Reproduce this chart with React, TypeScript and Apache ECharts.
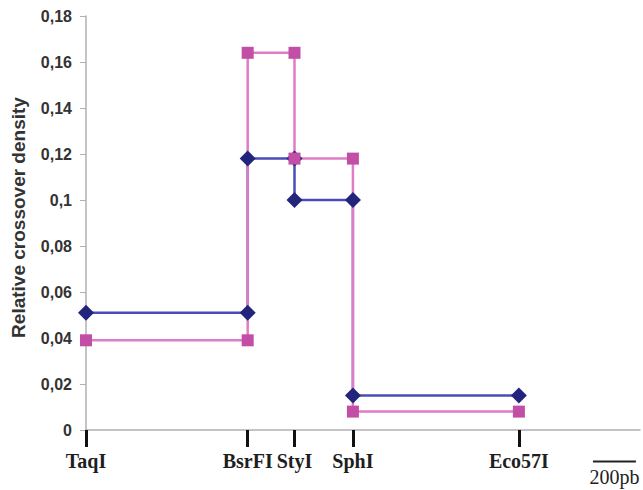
import React, { useEffect, useRef } from "react";
import * as echarts from "echarts";

// Restriction sites (position along the region, in bp)
const siteNames = ["TaqI", "BsrFI", "StyI", "SphI", "Eco57I"];
const sitePositions = [0, 753, 971, 1243, 2016];
// Relative crossover density for each interval between consecutive sites
const blueDensity = [0.051, 0.118, 0.1, 0.015];
const pinkDensity = [0.039, 0.164, 0.118, 0.008];
const yTicks = [0, 0.02, 0.04, 0.06, 0.08, 0.1, 0.12, 0.14, 0.16, 0.18];
const scaleBarStart = 2361;
const scaleBarLength = 200; // bp
const scaleBarLabel = "200pb";

function stepData(values: number[]) {
  const out: [number, number][] = [];
  values.forEach((v, i) => {
    out.push([sitePositions[i], v]);
    out.push([sitePositions[i + 1], v]);
  });
  return out;
}

const BLUE_LINE = "#4c4cb8";
const BLUE_MARK = "#23247c";
const PINK_LINE = "#e07cc6";
const PINK_MARK = "#c24fa5";

export default function App() {
  const ref = useRef<HTMLDivElement>(null);
  useEffect(() => {
    if (!ref.current) return;
    const chart = echarts.init(ref.current, null, { renderer: "svg" });
    const fmt = (v: number) => String(Number(v.toFixed(2))).replace(".", ",");
    const blue = stepData(blueDensity);
    const pink = stepData(pinkDensity);
    chart.setOption({
      animation: false,
      backgroundColor: "#ffffff",
      grid: { left: 86, right: 3, top: 16, bottom: 60, containLabel: false },
      xAxis: {
        type: "value",
        min: 0,
        max: 2580,
        splitLine: { show: false },
        axisLine: { show: true, lineStyle: { color: "#b0b0b0", width: 1.5 } },
        axisTick: {
          show: true,
          customValues: sitePositions,
          length: 17,
          lineStyle: { color: "#111111", width: 3 },
        },
        axisLabel: {
          show: true,
          customValues: sitePositions,
          margin: 21,
          formatter: (v: number) => {
            const i = sitePositions.indexOf(v);
            return i >= 0 ? siteNames[i] : "";
          },
          fontFamily: "Liberation Serif",
          fontWeight: "bold",
          fontSize: 20,
          color: "#1e1e1e",
        },
      },
      yAxis: {
        type: "value",
        min: 0,
        max: 0.18,
        interval: 0.02,
        name: "Relative crossover density",
        nameLocation: "middle",
        nameGap: 58,
        nameRotate: 90,
        nameTextStyle: {
          fontFamily: "Liberation Sans",
          fontWeight: "bold",
          fontSize: 19,
          color: "#333333",
          padding: [0, 0, 0, 11],
        },
        splitLine: { show: false },
        axisLine: { show: true, lineStyle: { color: "#b0b0b0", width: 1.5 } },
        axisTick: { show: true, length: 6, lineStyle: { color: "#b0b0b0" } },
        axisLabel: {
          margin: 14,
          formatter: (v: number) => (yTicks.some((t) => Math.abs(t - v) < 1e-9) ? fmt(v) : ""),
          fontFamily: "Liberation Sans",
          fontWeight: "bold",
          fontSize: 16,
          color: "#333333",
        },
      },
      series: [
        {
          type: "line",
          data: blue,
          symbol: "none",
          lineStyle: { color: BLUE_LINE, width: 2.5 },
          z: 1,
        },
        {
          type: "line",
          data: pink,
          symbol: "none",
          lineStyle: { color: PINK_LINE, width: 2.5 },
          z: 2,
        },
        {
          type: "scatter",
          data: blue,
          symbol: "diamond",
          symbolSize: 16,
          itemStyle: { color: BLUE_MARK, opacity: 1 },
          z: 3,
        },
        {
          type: "scatter",
          data: pink,
          symbol: "rect",
          symbolSize: 12,
          itemStyle: { color: PINK_MARK, opacity: 1 },
          z: 4,
        },
      ],
    });
    const x0 = chart.convertToPixel({ xAxisIndex: 0 }, scaleBarStart) as number;
    const x1 = chart.convertToPixel({ xAxisIndex: 0 }, scaleBarStart + scaleBarLength) as number;
    chart.setOption({
      graphic: [
        {
          type: "line",
          shape: { x1: x0, y1: 461.5, x2: x1, y2: 461.5 },
          style: { stroke: "#222222", lineWidth: 2 },
        },
        {
          type: "text",
          x: (x0 + x1) / 2,
          y: 477,
          style: {
            text: scaleBarLabel,
            align: "center",
            verticalAlign: "middle",
            font: "20px 'Liberation Serif'",
            fill: "#222222",
          },
        },
      ],
    });
    return () => chart.dispose();
  }, []);
  return (
    <div
      ref={ref}
      style={{ position: "fixed", left: 0, top: 0, width: 643, height: 490 }}
    />
  );
}
